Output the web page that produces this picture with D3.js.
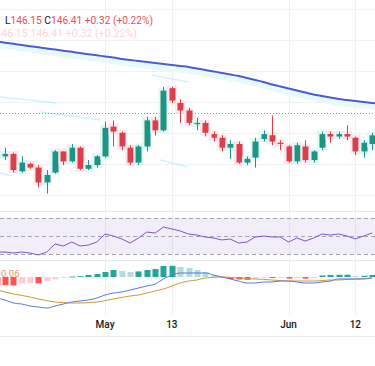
<!DOCTYPE html>
<html>
<head>
<meta charset="utf-8">
<script src="https://cdn.jsdelivr.net/npm/d3@7"></script>
<style>
  html, body { margin: 0; padding: 0; background: #fff; }
  svg { display: block; font-family: Roboto, "Noto Sans", sans-serif; }
</style>
</head>
<body>
<svg width="375" height="366"></svg>
<script>
// ---- data (candle index 0..44, indicators start one bar earlier at -1) ----
const opens  = [146.06,146.08,145.94,146.00,145.97,145.85,145.93,146.10,146.02,146.13,145.96,145.99,146.06,146.30,146.25,146.13,146.01,146.14,146.35,146.27,146.61,146.49,146.43,146.32,146.33,146.24,146.21,146.13,146.16,146.01,146.05,146.20,146.23,146.17,146.14,146.02,146.14,146.03,146.13,146.24,146.22,146.24,146.21,146.10,146.16];
const highs  = [146.13,146.09,146.06,146.01,145.99,145.95,146.11,146.10,146.16,146.14,146.03,146.07,146.34,146.35,146.26,146.15,146.15,146.38,146.38,146.62,146.62,146.52,146.45,146.37,146.35,146.26,146.23,146.19,146.18,146.06,146.21,146.27,146.39,146.19,146.15,146.17,146.19,146.11,146.26,146.26,146.26,146.31,146.22,146.19,146.25];
const lows   = [146.03,145.93,145.93,145.96,145.81,145.76,145.92,145.99,146.01,145.95,145.95,145.97,146.05,146.14,146.11,145.99,145.99,146.10,146.23,146.26,146.49,146.33,146.31,146.27,146.22,146.18,146.10,146.04,146.00,145.99,145.97,146.18,146.15,146.11,146.01,146.00,146.01,146.01,146.11,146.17,146.20,146.19,146.07,146.05,146.11];
const closes = [146.08,145.95,146.01,145.97,145.85,145.91,146.10,146.02,146.13,145.96,145.99,146.06,146.29,146.26,146.14,146.01,146.14,146.35,146.27,146.59,146.51,146.43,146.33,146.33,146.25,146.21,146.13,146.16,146.01,146.04,146.18,146.24,146.18,146.16,146.02,146.15,146.03,146.10,146.24,146.22,146.24,146.22,146.10,146.17,146.23];

// moving average, index -1..45
const maStart = -1;
const maValues = [146.986,146.977,146.968,146.958,146.949,146.940,146.930,146.921,146.912,146.903,146.893,146.884,146.875,146.866,146.857,146.846,146.837,146.829,146.821,146.813,146.805,146.797,146.789,146.781,146.769,146.757,146.745,146.733,146.720,146.708,146.692,146.676,146.660,146.640,146.624,146.608,146.591,146.575,146.559,146.547,146.535,146.523,146.515,146.507,146.499,146.491,146.483];

// oscillators, index -1..44
const indStart = -1;
const rsiValues = [32.2,32.2,31.1,32.2,31.1,28.9,32.2,41.1,38.9,43.3,38.9,40,43.3,52.2,50,46.7,42.2,47.8,54.4,53.3,60,57.8,55.6,52.2,51.1,48.9,47.8,45.6,46.7,42.2,43.3,48.9,50,48.9,48.9,43.3,47.8,44.4,47.8,52.2,51.1,52.2,50,46.7,50,53.3];
const macdValues = [-0.525,-0.575,-0.65,-0.675,-0.725,-0.75,-0.775,-0.725,-0.675,-0.625,-0.6,-0.575,-0.525,-0.45,-0.4,-0.375,-0.325,-0.275,-0.225,-0.175,-0.05,0.05,0.1,0.1,0.1,0.1,0.05,0,-0.05,-0.1,-0.15,-0.15,-0.125,-0.125,-0.1,-0.1,-0.125,-0.15,-0.15,-0.125,-0.1,-0.05,-0.05,-0.05,-0.05,-0.025];
const signalValues = [-0.325,-0.375,-0.425,-0.46,-0.5,-0.55,-0.59,-0.625,-0.64,-0.65,-0.65,-0.64,-0.625,-0.59,-0.55,-0.51,-0.475,-0.45,-0.4,-0.35,-0.3,-0.225,-0.15,-0.1,-0.075,-0.025,-0.01,0,-0.01,-0.025,-0.04,-0.05,-0.06,-0.075,-0.09,-0.1,-0.1,-0.1,-0.1,-0.09,-0.075,-0.075,-0.06,-0.05,-0.04,-0.025];
const histValues = [-0.19,-0.2,-0.21,-0.16,-0.15,-0.16,-0.1,-0.06,-0.025,0.012,0.02,0.05,0.075,0.125,0.175,0.15,0.125,0.14,0.175,0.2,0.275,0.28,0.25,0.225,0.175,0.125,0.05,0.008,-0.05,-0.062,-0.07,-0.038,-0.025,-0.025,-0.02,-0.038,-0.025,-0.04,-0.025,0.038,0.05,0.055,0.058,0.025,0.03,0.05];
const macdLabel = "0.06";

// faint ghost band segments [index, price]
const ghostStart = [[-0.6,146.539],[4.2,146.418],[17.6,146.716],[18.6,146.031],[-0.6,145.926]];
const ghostEnd   = [[6.2,146.491],[11.4,146.354],[21.9,146.66],[21.9,145.975],[0.8,145.902]];

const tickIndex  = [12, 20, 34, 42];
const tickLabels = ["May", "13", "Jun", "12"];
const priceGrid  = [147.25, 147, 146.75, 146.5, 146.25, 146, 145.75];
const rsiLevels  = [70, 50, 30];

const lastLow = 146.15, lastClose = 146.41, change = 0.32, changePct = 0.22;

// ---- scales ----
let svg = d3.select("svg"),
  width = 375;

let x = d3.scaleLinear().domain([0, 44]).range([5, 372]),
  yPrice = d3.scaleLinear().domain([145.668, 147.321]).range([205, 0]),
  yRsi = d3.scaleLinear().domain([23.33, 76.67]).range([260, 212]),
  yMacd = d3.scaleLinear().domain([-0.825, 0.375]).range([310, 262]);

const upColor = "#1f9484", downColor = "#dc3f4c";

let defs = svg.append("defs");
defs.append("clipPath").attr("id", "cPrice").append("rect").attr("x", 0).attr("y", 0).attr("width", width).attr("height", 211);
defs.append("clipPath").attr("id", "cRsi").append("rect").attr("x", 0).attr("y", 212).attr("width", width).attr("height", 48);
defs.append("clipPath").attr("id", "cMacd").append("rect").attr("x", 0).attr("y", 261).attr("width", width).attr("height", 54);

// ---- grid ----
let grid = svg.append("g");
grid.selectAll(".vg").data(tickIndex).enter().append("line")
  .attr("x1", d => Math.round(x(d)) + 0.5).attr("x2", d => Math.round(x(d)) + 0.5)
  .attr("y1", 0).attr("y2", 315)
  .attr("stroke", "#eef0f4");
grid.selectAll(".hg").data(priceGrid).enter().append("line")
  .attr("x1", 0).attr("x2", width)
  .attr("y1", d => Math.round(yPrice(d)) + 0.5).attr("y2", d => Math.round(yPrice(d)) + 0.5)
  .attr("stroke", "#f0f2f6");
[211.5, 260.5, 336.5].forEach(yy => {
  grid.append("line").attr("x1", 0).attr("x2", width).attr("y1", yy).attr("y2", yy).attr("stroke", "#e8eaef");
});

// ---- price pane ----
let price = svg.append("g").attr("clip-path", "url(#cPrice)");

price.selectAll(".ghost").data(ghostStart).enter().append("line")
  .attr("x1", d => x(d[0])).attr("y1", d => yPrice(d[1]))
  .attr("x2", (d, i) => x(ghostEnd[i][0])).attr("y2", (d, i) => yPrice(ghostEnd[i][1]))
  .attr("stroke", "#aeeaf5").attr("stroke-width", 1.5).attr("opacity", 0.55);

let maLine = d3.line()
  .curve(d3.curveMonotoneX)
  .x((d, i) => x(i + maStart))
  .y(d => yPrice(d));

price.append("path").attr("d", maLine(maValues))
  .attr("transform", "translate(0,4)")
  .attr("fill", "none").attr("stroke", "#e6f9fc").attr("stroke-width", 5);
price.append("path").attr("d", maLine(maValues))
  .attr("fill", "none").attr("stroke", "#4a5bd4").attr("stroke-width", 2);

price.append("line")
  .attr("x1", 0).attr("x2", width)
  .attr("y1", Math.round(yPrice(lastClose)) + 0.5).attr("y2", Math.round(yPrice(lastClose)) + 0.5)
  .attr("stroke", "#ec6f7b").attr("stroke-dasharray", "1,2");

let candles = opens.map((o, i) => ({ i: i, o: o, h: highs[i], l: lows[i], c: closes[i] }));

let candle = price.selectAll(".candle").data(candles).enter().append("g");
candle.append("rect")
  .attr("x", d => x(d.i) - 5)
  .attr("y", d => yPrice(Math.max(d.o, d.c)) - 3)
  .attr("width", 10)
  .attr("height", d => Math.abs(yPrice(d.o) - yPrice(d.c)) + 6)
  .attr("fill", d => d.c >= d.o ? "#d8f6f4" : "#fde2e8")
  .attr("opacity", 0.8);
candle.append("line")
  .attr("x1", d => Math.round(x(d.i)) + 0.5).attr("x2", d => Math.round(x(d.i)) + 0.5)
  .attr("y1", d => yPrice(d.h)).attr("y2", d => yPrice(d.l))
  .attr("stroke", d => d.c >= d.o ? upColor : downColor);
candle.append("rect")
  .attr("x", d => Math.round(x(d.i)) - 2.5)
  .attr("y", d => yPrice(Math.max(d.o, d.c)))
  .attr("width", 6)
  .attr("height", d => Math.max(1, Math.abs(yPrice(d.o) - yPrice(d.c))))
  .attr("fill", d => d.c >= d.o ? upColor : downColor);

// ---- header ----
let header = svg.append("text").attr("x", 5).attr("y", 24)
  .attr("font-size", 10).attr("textLength", 148).attr("lengthAdjust", "spacingAndGlyphs");
header.append("tspan").attr("fill", "#131722").text("L");
header.append("tspan").attr("fill", "#eb4d5c").text(lastLow.toFixed(2));
header.append("tspan").attr("fill", "#131722").text(" C");
header.append("tspan").attr("fill", "#eb4d5c").text(lastClose.toFixed(2));
header.append("tspan").attr("fill", "#eb4d5c").text(" +" + change.toFixed(2) + " (+" + changePct.toFixed(2) + "%)");

// faint echo of the header values
svg.append("text").attr("x", 1).attr("y", 37)
  .attr("font-size", 10).attr("fill", "#fcd6e0")
  .attr("textLength", 136).attr("lengthAdjust", "spacingAndGlyphs")
  .text(lastLow.toFixed(2).slice(1) + "    " + lastClose.toFixed(2) + "   +" + change.toFixed(2) + " (+" + changePct.toFixed(2) + "%)");

// ---- RSI pane ----
let rsi = svg.append("g").attr("clip-path", "url(#cRsi)");
rsi.append("rect")
  .attr("x", 0).attr("width", width)
  .attr("y", yRsi(70)).attr("height", yRsi(30) - yRsi(70))
  .attr("fill", "#7e57c2").attr("opacity", 0.1);
rsi.selectAll(".lvl").data(rsiLevels).enter().append("line")
  .attr("x1", 0).attr("x2", width)
  .attr("y1", d => Math.round(yRsi(d)) + 0.5).attr("y2", d => Math.round(yRsi(d)) + 0.5)
  .attr("stroke", "#a3a6af").attr("stroke-dasharray", "4,3");
rsi.append("path")
  .attr("d", d3.line().x((d, i) => x(i + indStart)).y(d => yRsi(d))(rsiValues))
  .attr("fill", "none").attr("stroke", "#7e57c2").attr("stroke-width", 1);

// ---- MACD pane ----
let macd = svg.append("g").attr("clip-path", "url(#cMacd)");
macd.selectAll(".bar").data(histValues).enter().append("rect")
  .attr("x", (d, i) => Math.round(x(i + indStart)) - 2.5)
  .attr("width", 6)
  .attr("y", d => Math.min(yMacd(d), yMacd(0)))
  .attr("height", d => Math.max(0.8, Math.abs(yMacd(d) - yMacd(0))))
  .attr("fill", (d, i) => {
    let prev = i > 0 ? histValues[i - 1] : d;
    if (d >= 0) return prev < d ? "#26a69a" : "#b2dfdb";
    return prev < d ? "#ffcdd2" : "#ff5252";
  });

let oscLine = d3.line().curve(d3.curveMonotoneX)
  .x((d, i) => x(i + indStart)).y(d => yMacd(d));
macd.append("path").attr("d", oscLine(signalValues))
  .attr("fill", "none").attr("stroke", "#cf9a35").attr("stroke-width", 1);
macd.append("path").attr("d", oscLine(macdValues))
  .attr("fill", "none").attr("stroke", "#5b78e6").attr("stroke-width", 1);

svg.append("text").attr("x", 1).attr("y", 277)
  .attr("font-size", 9.5)
  .attr("fill", "#f3915f").text(macdLabel);

// ---- time axis ----
svg.selectAll(".tl").data(tickLabels).enter().append("text")
  .attr("x", (d, i) => x(tickIndex[i]))
  .attr("y", 328)
  .attr("text-anchor", "middle")
  .attr("font-size", 10)
  .attr("font-weight", 500)
  .attr("fill", "#131722")
  .text(d => d);
</script>
</body>
</html>
